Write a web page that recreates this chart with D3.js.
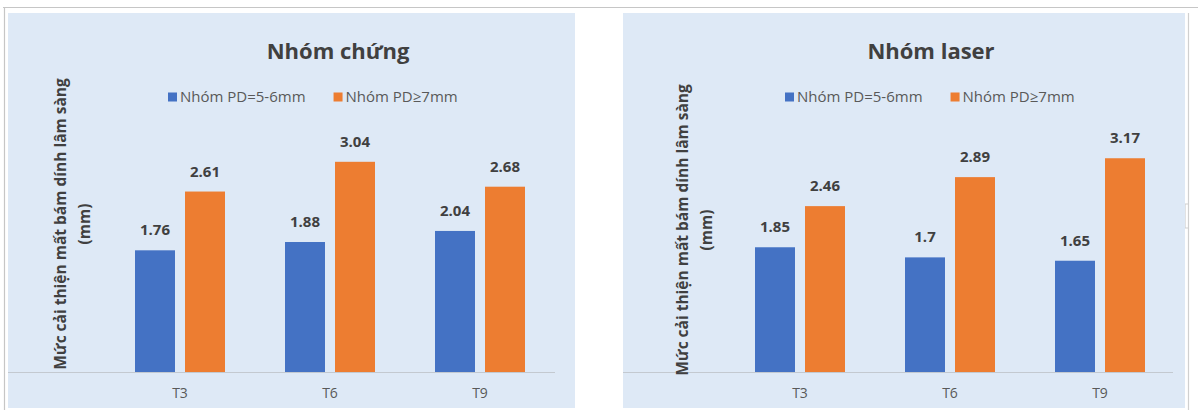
<!DOCTYPE html>
<html>
<head>
<meta charset="utf-8">
<script src="https://cdn.jsdelivr.net/npm/d3@7"></script>
<style>
  html, body { margin: 0; padding: 0; background: #ffffff; }
  svg { display: block; }
  text { font-family: "Open Sans", "DejaVu Sans", sans-serif; }
</style>
</head>
<body>
<svg id="chart" width="1198" height="410"></svg>
<script>
// Time points and series
const categories = ["T3", "T6", "T9"];
const seriesNames = ["Nhóm PD=5-6mm", "Nhóm PD\u22657mm"];
const chungSmall = [1.76, 1.88, 2.04];
const chungLarge = [2.61, 3.04, 2.68];
const laserSmall = [1.85, 1.70, 1.65];
const laserLarge = [2.46, 2.89, 3.17];
const panelTitles = ["Nhóm chứng", "Nhóm laser"];
const yTitleLines = ["Mức cải thiện mất bám dính lâm sàng", "(mm)"];
const yDomain = [0, 3.5];

const colors = ["#4472C4", "#ED7D31"];
const svg = d3.select("#chart");

// outer frame lines
svg.append("line").attr("x1", 3).attr("x2", 1198).attr("y1", 7.5).attr("y2", 7.5)
  .attr("stroke", "#c6c6c6").attr("stroke-width", 1.2);
svg.append("line").attr("x1", 4.5).attr("x2", 4.5).attr("y1", 7).attr("y2", 410)
  .attr("stroke", "#c6c6c6").attr("stroke-width", 1.2);
svg.append("line").attr("x1", 1188.5).attr("x2", 1188.5).attr("y1", 13).attr("y2", 410)
  .attr("stroke", "#d0d0d0").attr("stroke-width", 1.2);
// little handle mark on the right edge
svg.append("path").attr("d", "M1188,204 L1185,204 L1185,228 L1188,228")
  .attr("fill", "none").attr("stroke", "#cfcfcf").attr("stroke-width", 1.2);

const panels = [
  { title: panelTitles[0], small: chungSmall, large: chungLarge,
    bg: [8, 13, 575, 408], baseline: [8, 555], xRange: [105, 555], yRange: [372, 130],
    titleX: 338, legendX: 168, yTitleX: [61, 85], yTitleY: 224 },
  { title: panelTitles[1], small: laserSmall, large: laserLarge,
    bg: [623, 13, 1185, 408], baseline: [623, 1173], xRange: [725, 1175], yRange: [372, 136],
    titleX: 931, legendX: 785, yTitleX: [683, 707], yTitleY: 230 }
];

panels.forEach(p => {
  const g = svg.append("g");

  // chart area background
  g.append("rect")
    .attr("x", p.bg[0]).attr("y", p.bg[1])
    .attr("width", p.bg[2] - p.bg[0]).attr("height", p.bg[3] - p.bg[1])
    .attr("fill", "#dee9f6");

  const x = d3.scaleBand().domain(categories).range(p.xRange)
    .paddingInner(0.4).paddingOuter(0.2);
  const xSub = d3.scaleBand().domain(seriesNames).range([0, x.bandwidth()])
    .paddingInner(0.2);
  const y = d3.scaleLinear().domain(yDomain).range(p.yRange);

  // baseline
  g.append("line")
    .attr("x1", p.baseline[0]).attr("x2", p.baseline[1])
    .attr("y1", y(0) + 0.5).attr("y2", y(0) + 0.5)
    .attr("stroke", "#c3c9d0").attr("stroke-width", 1);

  const rows = categories.map((c, i) => ({
    cat: c,
    vals: [{ s: seriesNames[0], v: p.small[i], k: 0 }, { s: seriesNames[1], v: p.large[i], k: 1 }]
  }));

  const groups = g.selectAll("g.cat").data(rows).join("g")
    .attr("class", "cat")
    .attr("transform", d => `translate(${x(d.cat)},0)`);

  groups.selectAll("rect").data(d => d.vals).join("rect")
    .attr("x", d => xSub(d.s))
    .attr("y", d => y(d.v))
    .attr("width", xSub.bandwidth())
    .attr("height", d => y(0) - y(d.v))
    .attr("fill", d => colors[d.k]);

  groups.selectAll("text.val").data(d => d.vals).join("text")
    .attr("class", "val")
    .attr("x", d => xSub(d.s) + xSub.bandwidth() / 2)
    .attr("y", d => y(d.v) - 15)
    .attr("text-anchor", "middle")
    .attr("font-size", 15).attr("font-weight", 700)
    .attr("fill", "#404040")
    .text(d => String(d.v));

  // category axis labels
  const xAxis = d3.axisBottom(x).tickSize(0).tickPadding(0);
  const ax = g.append("g").attr("transform", `translate(0,${y(0) + 22})`).call(xAxis);
  ax.select(".domain").remove();
  ax.selectAll("text")
    .attr("font-size", 14).attr("fill", "#595959")
    .attr("font-family", "\"Open Sans\", sans-serif")
    .attr("dy", "0.32em");

  // title
  g.append("text")
    .attr("x", p.titleX).attr("y", 59)
    .attr("text-anchor", "middle")
    .attr("font-size", 22).attr("font-weight", 700)
    .attr("fill", "#404040")
    .text(p.title);

  // legend
  const leg = g.append("g").attr("transform", `translate(${p.legendX},97)`);
  let cx = 0;
  seriesNames.forEach((name, i) => {
    leg.append("rect").attr("x", cx).attr("y", -4.5)
      .attr("width", 9).attr("height", 9).attr("fill", colors[i]);
    const t = leg.append("text").attr("x", cx + 12).attr("y", 0)
      .attr("dy", "0.35em")
      .attr("font-size", 15).attr("fill", "#595959")
      .text(name);
    cx += 12 + t.node().getComputedTextLength() + 28;
  });

  // rotated y-axis title
  yTitleLines.forEach((line, i) => {
    g.append("text")
      .attr("transform", `translate(${p.yTitleX[i]},${p.yTitleY}) rotate(-90)`)
      .attr("text-anchor", "middle")
      .attr("dy", "0.35em")
      .attr("font-size", 15.5).attr("font-weight", 700)
      .attr("fill", "#404040")
      .text(line);
  });
});
</script>
</body>
</html>
